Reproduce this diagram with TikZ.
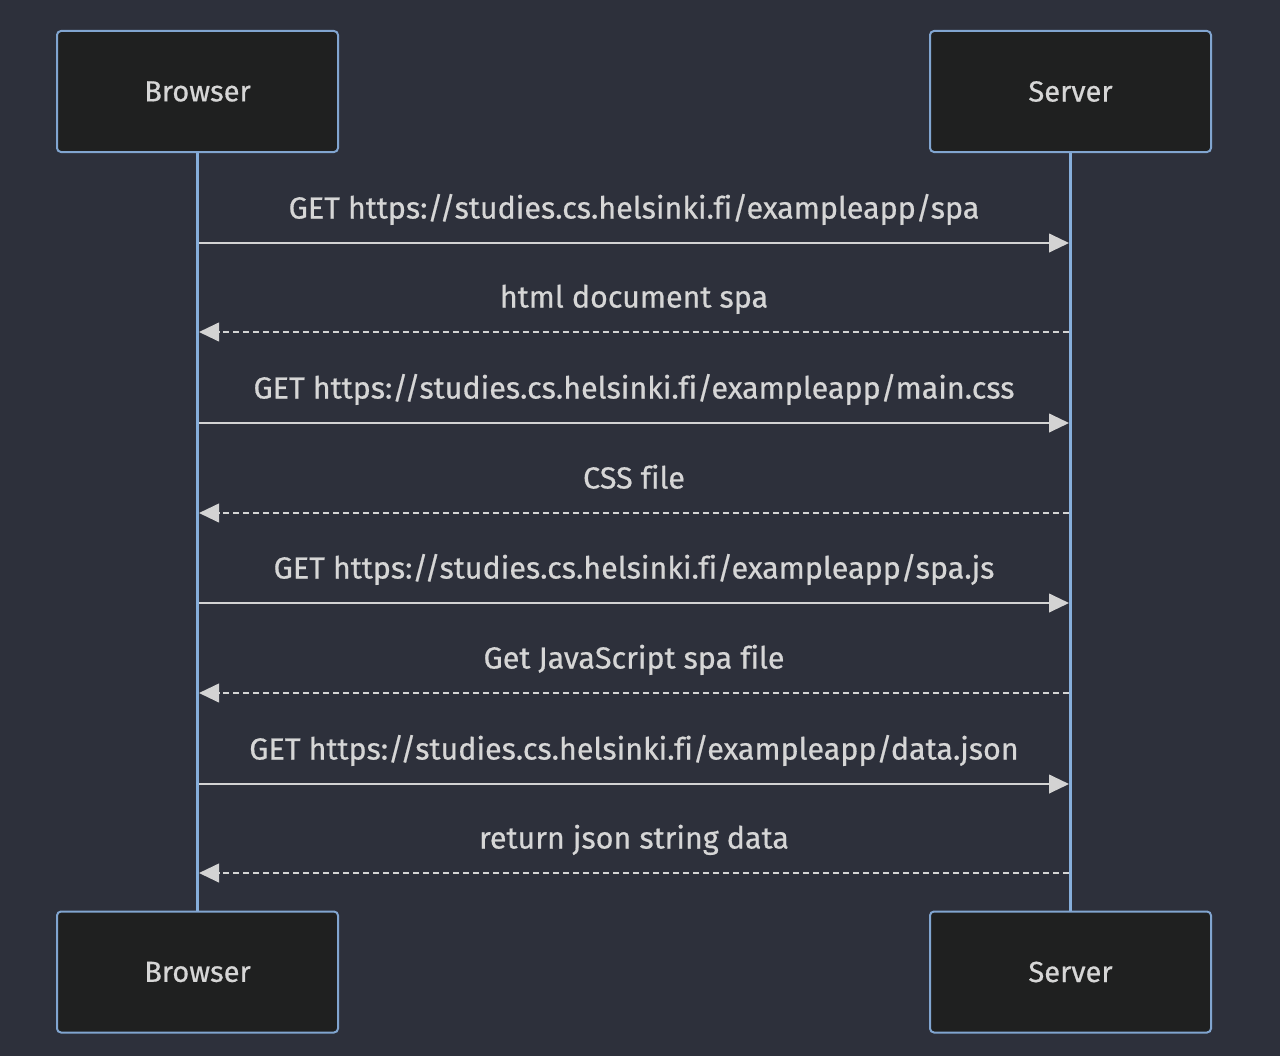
\documentclass[tikz,border=0pt]{standalone}
\usepackage{fontspec}
\setmainfont[Ligatures=NoCommon, FakeBold=0.6]{Fira Sans}
\usetikzlibrary{arrows.meta}
\definecolor{bg}{HTML}{2D303B}
\definecolor{boxfill}{HTML}{1F2020}
\definecolor{boxline}{HTML}{81A5D0}
\definecolor{life}{HTML}{86AEDB}
\definecolor{txt}{HTML}{D6D6D6}
\definecolor{sig}{HTML}{D3D3D3}
\tikzset{
  actor/.style={draw=boxline, line width=1.5pt, fill=boxfill, rounded corners=3pt,
    minimum width=210.75pt, minimum height=90.75pt, inner sep=0pt,
    text=txt, font=\fontsize{21.8}{26}\selectfont},
  lifeline/.style={draw=life, line width=2.4pt},
  msg/.style={draw=sig, line width=1.5pt, -{Triangle[length=15pt,width=14pt]}},
  reply/.style={msg, dash pattern=on 4.5pt off 3pt},
  lbl/.style={text=txt, font=\fontsize{22.85}{27}\selectfont, inner sep=0pt, anchor=base}
}
\begin{document}
\begin{tikzpicture}[x=0.75pt, y=-0.75pt]
\fill[bg] (0,0) rectangle (1280,1056);
\useasboundingbox (0,0) rectangle (1280,1056);
% lifelines
\coordinate (bt) at (197.5,152);
\coordinate (bb) at (197.5,912);
\coordinate (st) at (1070.5,152);
\coordinate (sb) at (1070.5,912);
\draw[lifeline] (bt) -- (bb);
\draw[lifeline] (st) -- (sb);
% actors
\node[actor] (b1) at (197.5,91.5) {Browser};
\node[actor] (s1) at (1070.5,91.5) {Server};
\node[actor] (b2) at (197.5,972) {Browser};
\node[actor] (s2) at (1070.5,972) {Server};
% messages
\foreach \y/\t/\k in {
  243/{GET https://studies.cs.helsinki.fi/exampleapp/spa}/r,
  332/{html document spa}/l,
  423/{GET https://studies.cs.helsinki.fi/exampleapp/main.css}/r,
  513/{CSS file}/l,
  603/{GET https://studies.cs.helsinki.fi/exampleapp/spa.js}/r,
  693/{Get JavaScript spa file}/l,
  784/{GET https://studies.cs.helsinki.fi/exampleapp/data.json}/r,
  873/{return json string data}/l}{
  \coordinate (L\y) at (199,\y);
  \coordinate (R\y) at (1069,\y);
  \node[lbl] (t\y) at (634,\y-24.5) {\t};
  \if\k r
    \draw[msg] (L\y) -- (R\y);
  \else
    \draw[reply] (R\y) -- (L\y);
  \fi
}
\end{tikzpicture}
\end{document}
